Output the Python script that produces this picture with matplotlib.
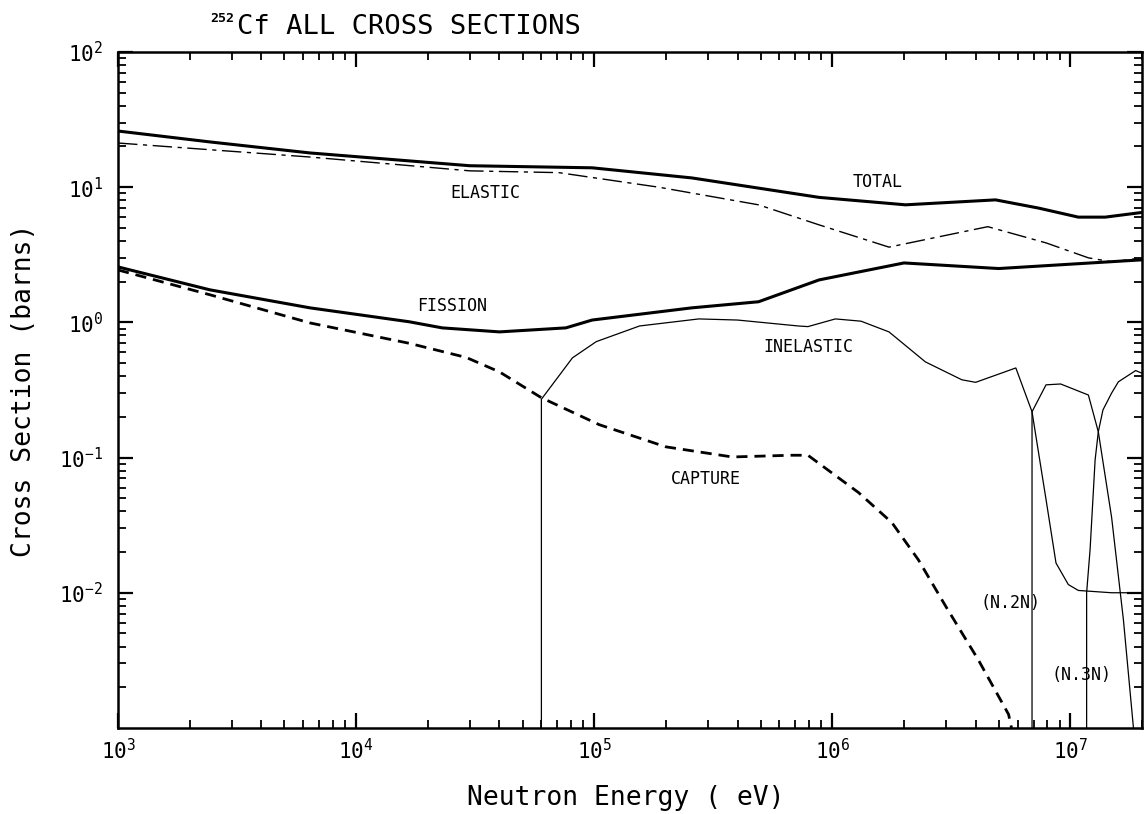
import matplotlib
matplotlib.use("Agg")
import matplotlib.pyplot as plt
from matplotlib.ticker import LogLocator, NullFormatter

plt.rcParams['font.family'] = ['DejaVu Sans Mono']
plt.rcParams['mathtext.default'] = 'regular'

# energies in eV, cross sections in barns
total_e = [1e3, 2.43e3, 6.4e3, 3.0e4, 9.8e4, 2.57e5, 8.8e5, 2.03e6, 4.85e6, 7.35e6, 1.08e7, 1.4e7, 2e7]
total_s = [26, 21.6, 17.9, 14.4, 13.9, 11.7, 8.4, 7.4, 8.05, 7.0, 6.0, 6.0, 6.5]

elastic_e = [1e3, 6.4e3, 3.0e4, 7.1e4, 1.86e5, 4.9e5, 8.8e5, 1.73e6, 3.0e6, 4.5e6, 7.9e6, 1.19e7, 1.5e7, 2e7]
elastic_s = [21.2, 16.7, 13.2, 12.8, 10.0, 7.4, 5.26, 3.6, 4.4, 5.1, 3.87, 3.0, 2.8, 3.0]

fission_e = [1e3, 2.43e3, 6.4e3, 1.67e4, 2.3e4, 4.0e4, 7.6e4, 9.8e4, 2.57e5, 4.9e5, 8.8e5, 2e6, 5e6, 2e7]
fission_s = [2.57, 1.74, 1.28, 1.01, 0.91, 0.85, 0.91, 1.04, 1.28, 1.42, 2.06, 2.75, 2.5, 2.9]

capture_e = [1e3, 2.43e3, 6.4e3, 1.67e4, 2.9e4, 4.0e4, 6.0e4, 1.05e5, 2.0e5, 3.8e5, 6.7e5, 7.9e5,
             1.29e6, 1.78e6, 2.3e6, 3.0e6, 4.1e6, 5.5e6, 5.66e6]
capture_s = [2.44, 1.6, 0.99, 0.70, 0.55, 0.43, 0.277, 0.175, 0.12, 0.101, 0.104, 0.104,
             0.055, 0.033, 0.0175, 0.0079, 0.0032, 0.00126, 0.001]

inelastic_e = [6.0e4, 6.0e4, 8.1e4, 1.02e5, 1.55e5, 2.75e5, 4e5, 7.2e5, 7.9e5, 1.03e6, 1.32e6, 1.73e6,
               2.46e6, 3.5e6, 4.0e6, 5.9e6, 6.9e6, 7.9e6, 8.7e6, 9.8e6, 1.08e7, 1.49e7, 2e7]
inelastic_s = [1e-3, 0.27, 0.546, 0.72, 0.94, 1.06, 1.04, 0.94, 0.93, 1.06, 1.02, 0.85,
               0.51, 0.376, 0.36, 0.46, 0.218, 0.049, 0.0166, 0.0115, 0.0104, 0.010, 0.010]

n2n_e = [6.9e6, 6.9e6, 7.9e6, 9.1e6, 1.19e7, 1.31e7, 1.49e7, 1.67e7, 1.84e7]
n2n_s = [1e-3, 0.218, 0.345, 0.35, 0.29, 0.155, 0.036, 0.0063, 0.001]

n3n_e = [1.17e7, 1.17e7, 1.21e7, 1.27e7, 1.31e7, 1.37e7, 1.49e7, 1.59e7, 1.88e7, 2e7]
n3n_s = [1e-3, 0.01, 0.021, 0.096, 0.155, 0.225, 0.30, 0.363, 0.44, 0.42]

fig = plt.figure(figsize=(11.47, 8.14), dpi=100)
ax = fig.add_axes([0.1029, 0.1057, 0.8928, 0.8305])

ax.plot(total_e, total_s, color='black', lw=2.2)
ax.plot(elastic_e, elastic_s, color='black', lw=1.0, dashes=(14, 4, 3, 4))
ax.plot(fission_e, fission_s, color='black', lw=2.2)
ax.plot(capture_e, capture_s, color='black', lw=2.0, dashes=(4, 2.5))
ax.plot(inelastic_e, inelastic_s, color='black', lw=0.9)
ax.plot(n2n_e, n2n_s, color='black', lw=0.9)
ax.plot(n3n_e, n3n_s, color='black', lw=0.9)

ax.set_xscale('log')
ax.set_yscale('log')
ax.set_xlim(1e3, 2e7)
ax.set_ylim(1e-3, 1e2)

ax.set_xticks([1e3, 1e4, 1e5, 1e6, 1e7])
ax.set_yticks([1e-2, 1e-1, 1e0, 1e1, 1e2])
ax.xaxis.set_minor_locator(LogLocator(base=10, subs=range(2, 10), numticks=20))
ax.yaxis.set_minor_locator(LogLocator(base=10, subs=range(2, 10), numticks=20))
ax.xaxis.set_minor_formatter(NullFormatter())
ax.yaxis.set_minor_formatter(NullFormatter())

ax.tick_params(which='both', direction='in', top=True, right=True, labelsize=15)
ax.tick_params(which='major', length=11, width=1.6)
ax.tick_params(which='minor', length=6, width=1.3)
ax.tick_params(axis='x', which='major', pad=7)
ax.tick_params(axis='y', which='major', pad=11)
for sp in ax.spines.values():
    sp.set_linewidth(1.8)

ax.set_xlabel('Neutron Energy ( eV)', fontsize=19)
ax.set_ylabel('Cross Section (barns)', fontsize=19)
ax.xaxis.set_label_coords(0.496, -0.084)
ax.yaxis.set_label_coords(-0.079, 0.5)

# curve labels
lab = dict(fontsize=12, ha='center', va='center')
ax.text(1.55e6, 10.9, 'TOTAL', **lab)
ax.text(3.5e4, 9.05, 'ELASTIC', **lab)
ax.text(2.54e4, 1.32, 'FISSION', **lab)
ax.text(7.9e5, 0.66, 'INELASTIC', **lab)
ax.text(2.95e5, 0.0697, 'CAPTURE', **lab)
ax.text(5.6e6, 0.00843, '(N.2N)', **lab)
ax.text(1.11e7, 0.00248, '(N.3N)', **lab)

# title: small superscript mass number, then the rest
fig.text(210 / 1147, 1 - 19 / 814, '252', fontsize=9.5, ha='left', va='center',
         fontweight='bold')
fig.text(237 / 1147, 1 - 27 / 814, 'Cf ALL CROSS SECTIONS', fontsize=19.5,
         ha='left', va='center')

fig.savefig('out.png', dpi=100)
